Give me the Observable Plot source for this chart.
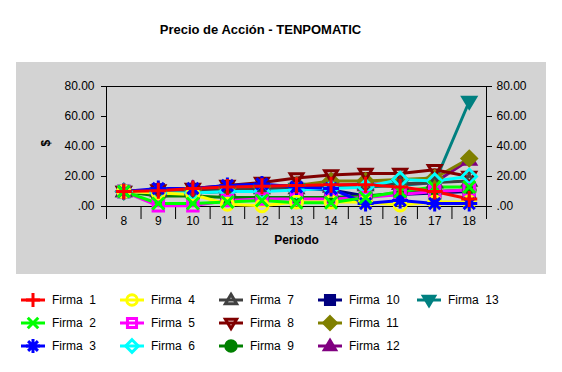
<!DOCTYPE html>
<html><head><meta charset="utf-8">
<script src="https://cdn.jsdelivr.net/npm/d3@7"></script>
<script src="https://cdn.jsdelivr.net/npm/@observablehq/plot@0.6"></script>
<style>
body{margin:0;background:#fff;font-family:Arial,"Liberation Sans",sans-serif;}
#wrap{position:relative;width:562px;height:372px;overflow:hidden;}
#title{position:absolute;left:0;width:521px;top:22px;text-align:center;font-weight:bold;font-size:13px;}
#chart{position:absolute;left:16px;top:62px;}
#legend{position:absolute;left:21px;top:288px;display:grid;grid-template-columns:repeat(5,99px);grid-template-rows:repeat(3,23px);grid-auto-flow:column;font-size:12px;}
.item{display:flex;align-items:center;white-space:pre;}
.item svg{margin-right:7px;}
</style></head>
<body><div id="wrap"><div id="title">Precio de Acción - TENPOMATIC</div><div id="chart"></div><div id="legend"></div></div>
<script>
const periods = [8,9,10,11,12,13,14,15,16,17,18];
const yTicks = [0,20,40,60,80];
const firma1  = [10,10.5,12,13,13.5,14,14.5,14.5,13,10,5];
const firma2  = [10,2,2,3,4,2.5,2.5,6,10,13,13];
const firma3  = [10,12,12,14,15,13,12,2,4,2,2];
const firma4  = [10,9,8,1.5,0.5,3,3,3,1,3,3];
const firma5  = [10,0.5,0.5,4,5,5,5,6,8,10,11];
const firma6  = [10,9,9,10,10,11,12,13,18,17,20];
const firma7  = [10,10,11,11,12,12,13,14,15,16,17];
const firma8  = [10,11,12,14,16,19,21,22,22,24.5,20];
const firma9  = [10,7,7,6,6,6,6,7,9,10,11];
const firma10 = [10,11,11,11,12,12,11,7,8,9,10];
const firma11 = [10,10,11,12,13,14,17,17,18,19,32];
const firma12 = [10,11,12,13,14,14,14,15,15,16,31];
const firma13 = [10,9,9,10,11,12,13,13,14,16,70];
const seriesNames = ["Firma  1","Firma  2","Firma  3","Firma  4","Firma  5","Firma  6","Firma  7","Firma  8","Firma  9","Firma  10","Firma  11","Firma  12","Firma  13"];
const seriesValues = [firma1,firma2,firma3,firma4,firma5,firma6,firma7,firma8,firma9,firma10,firma11,firma12,firma13];

const colors = ["#ff0000","#00ff00","#0000ff","#ffff00","#ff00ff","#00ffff","#404040","#800000","#008000","#000080","#808000","#800080","#008080"];
const R = s => Math.sqrt(s/Math.PI);
const sym = {
  plus:{draw(c,s){const r=R(s);c.moveTo(-r,0);c.lineTo(r,0);c.moveTo(0,-r);c.lineTo(0,r);}},
  times:{draw(c,s){const r=R(s)*0.75;c.moveTo(-r,-r);c.lineTo(r,r);c.moveTo(-r,r);c.lineTo(r,-r);}},
  star:{draw(c,s){const r=R(s),d=r*0.7;c.moveTo(-r,0);c.lineTo(r,0);c.moveTo(0,-r);c.lineTo(0,r);c.moveTo(-d,-d);c.lineTo(d,d);c.moveTo(-d,d);c.lineTo(d,-d);}},
  circle:{draw(c,s){const r=R(s)*0.75;c.moveTo(r,0);c.arc(0,0,r,0,2*Math.PI);}},
  square:{draw(c,s){const r=R(s)*0.65;c.rect(-r,-r,2*r,2*r);}},
  diamond:{draw(c,s){const r=R(s)*0.9;c.moveTo(0,-r);c.lineTo(r,0);c.lineTo(0,r);c.lineTo(-r,0);c.closePath();}},
  tri:{draw(c,s){const r=R(s)*0.8;c.moveTo(0,-r);c.lineTo(r,r*0.65);c.lineTo(-r,r*0.65);c.closePath();}},
  triDown:{draw(c,s){const r=R(s)*0.8;c.moveTo(0,r);c.lineTo(r,-r*0.65);c.lineTo(-r,-r*0.65);c.closePath();}}
};
const symbols = [sym.plus,sym.times,sym.star,sym.circle,sym.square,sym.diamond,sym.tri,sym.triDown,sym.circle,sym.square,sym.diamond,sym.tri,sym.triDown];
const filled = [false,false,false,false,false,false,false,false,true,true,true,true,true];

const data = seriesNames.flatMap((name,i)=>periods.map((p,j)=>({name,idx:i,x:p,y:seriesValues[i][j]})));
const order = seriesNames.map((_,i)=>i).reverse();
const boundaries = [...periods.map(p=>p-0.5), periods[periods.length-1]+0.5];
const fmt = d => d===0 ? ".00" : d.toFixed(2);

const marks = [
  Plot.frame({stroke:"#000"}),
  Plot.axisX({ticks:boundaries,tickSize:13,tickFormat:()=>"",label:null}),
  Plot.axisX({ticks:periods,tickSize:0,tickPadding:10,tickFormat:d=>String(d),label:null,fontSize:12}),
  Plot.axisY({anchor:"left",ticks:yTicks,tickSize:5,tickPadding:7,tickFormat:fmt,label:null,fontSize:12}),
  Plot.axisY({anchor:"right",ticks:yTicks,tickSize:5,tickPadding:5,tickFormat:fmt,label:null,fontSize:12}),
  Plot.text(["Periodo"],{frameAnchor:"bottom",dy:37,fontWeight:"bold",fontSize:12}),
  Plot.text(["$"],{frameAnchor:"left",dx:-60,rotate:-90,fontWeight:"bold",fontSize:12})
];
for (const i of order) {
  marks.push(Plot.line(data.filter(d=>d.idx===i),{x:"x",y:"y",stroke:colors[i],strokeWidth:3}));
}
for (const i of order) {
  marks.push(Plot.dot(data.filter(d=>d.idx===i),{x:"x",y:"y",symbol:symbols[i],r:8,stroke:colors[i],strokeWidth:3,fill:filled[i]?colors[i]:"none"}));
}
const chart = Plot.plot({
  width:530,height:212,
  marginLeft:90,marginRight:60,marginTop:24,marginBottom:68,
  style:{background:"#d3d3d3",fontFamily:"Arial, 'Liberation Sans', sans-serif",fontSize:"12px",color:"#000"},
  x:{type:"linear",domain:[boundaries[0],boundaries[boundaries.length-1]]},
  y:{domain:[0,80]},
  marks
});
document.getElementById("chart").appendChild(chart);

const legend = document.getElementById("legend");
seriesNames.forEach((name,i)=>{
  const item = document.createElement("div");
  item.className="item";
  const path = d3.symbol().type(symbols[i]).size(49*Math.PI)();
  item.innerHTML = `<svg width="24" height="18" viewBox="-12 -9 24 18"><line x1="-12" x2="12" y1="0" y2="0" stroke="${colors[i]}" stroke-width="3"/><path d="${path}" stroke="${colors[i]}" stroke-width="3" fill="${filled[i]?colors[i]:"none"}"/></svg><span></span>`;
  item.querySelector("span").textContent = name;
  legend.appendChild(item);
});
</script></body></html>
